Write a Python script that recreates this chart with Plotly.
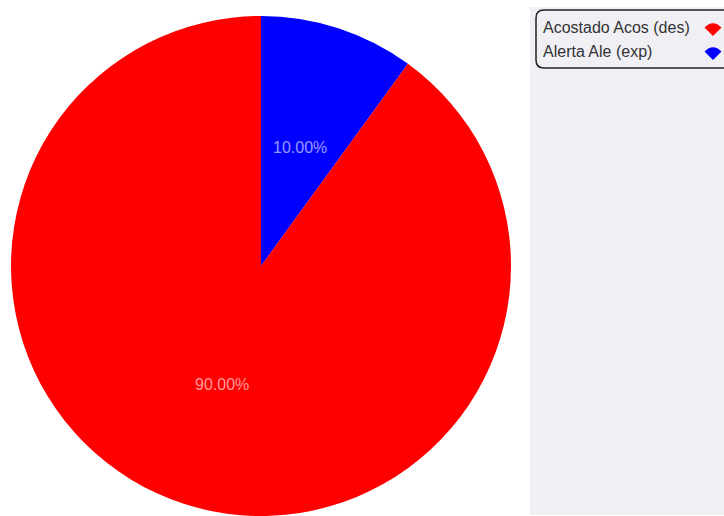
import math
import plotly.graph_objects as go

labels = ["Acostado Acos (des)", "Alerta Ale (exp)"]
values = [90, 10]
colors = ["#ff0000", "#0000ff"]

W, H = 724, 516
# pie geometry in pixels
PX0, PX1 = 11, 511
PY0, PY1 = 16, 516
CX, CY = (PX0 + PX1) / 2, (PY0 + PY1) / 2
R = (PX1 - PX0) / 2

# drawing order: clockwise from 12 o'clock, small slice first
order = [1, 0]

fig = go.Figure()
fig.add_trace(go.Pie(
    labels=[labels[i] for i in order],
    values=[values[i] for i in order],
    sort=False,
    direction="clockwise",
    rotation=0,
    marker=dict(colors=[colors[i] for i in order], line=dict(width=0)),
    textinfo="none",
    domain=dict(x=[PX0 / W, PX1 / W], y=[(H - PY1) / H, (H - PY0) / H]),
    showlegend=False,
    hoverinfo="label+percent",
))

annotations = []
total = sum(values)
cum = 0.0
for i in order:
    frac = values[i] / total
    mid = (cum + frac / 2) * 2 * math.pi
    cum += frac
    tx = CX + 0.5 * R * math.sin(mid)
    ty = CY - 0.5 * R * math.cos(mid)
    annotations.append(dict(text=f"{frac * 100:.2f}%", xref="paper", yref="paper",
                            x=tx / W, y=(H - ty) / H, xanchor="center", yanchor="middle",
                            showarrow=False,
                            font=dict(family="Liberation Sans, Arial, sans-serif", size=16,
                                      color="rgba(255,255,255,0.6)")))

shapes = []
# grey side panel
shapes.append(dict(type="rect", xref="paper", yref="paper",
                   x0=530 / W, x1=1.0, y0=1 / H, y1=(H - 7) / H,
                   fillcolor="#efeff4", line=dict(width=0), layer="below"))
# rounded legend border
r = 8
bw, bh = 220, 58
path = (f"M {r},0 L {bw},0 L {bw},{-bh} L {r},{-bh} "
        f"Q 0,{-bh} 0,{-bh + r} L 0,{-r} Q 0,0 {r},0 Z")
shapes.append(dict(type="path", xref="paper", yref="paper",
                   xsizemode="pixel", ysizemode="pixel",
                   xanchor=536 / W, yanchor=(H - 10) / H,
                   path=path, line=dict(color="#222222", width=1.5),
                   fillcolor="rgba(0,0,0,0)"))

row_y = [28, 52]
apex_y = [36, 60]
wr = 12
d = wr * 0.7071
c = wr / 0.7071
wedge = f"M 0,0 L {-d:.2f},{d:.2f} Q 0,{c:.2f} {d:.2f},{d:.2f} Z"
for lab, col, ty, ay in zip(labels, colors, row_y, apex_y):
    annotations.append(dict(text=lab, xref="paper", yref="paper",
                            x=541 / W, y=(H - ty) / H, xanchor="left", yanchor="middle",
                            showarrow=False,
                            font=dict(family="Liberation Sans, Arial, sans-serif",
                                      size=16, color="#333333")))
    shapes.append(dict(type="path", xref="paper", yref="paper",
                       xsizemode="pixel", ysizemode="pixel",
                       xanchor=713 / W, yanchor=(H - ay) / H,
                       path=wedge, fillcolor=col, line=dict(width=0)))

fig.update_layout(
    width=W, height=H,
    margin=dict(l=0, r=0, t=0, b=0),
    paper_bgcolor="white",
    plot_bgcolor="white",
    shapes=shapes,
    annotations=annotations,
    showlegend=False,
)

fig.write_html("out.html",
               config={"displayModeBar": False},
               post_script="document.body.style.margin='0';document.body.style.overflow='hidden';")
